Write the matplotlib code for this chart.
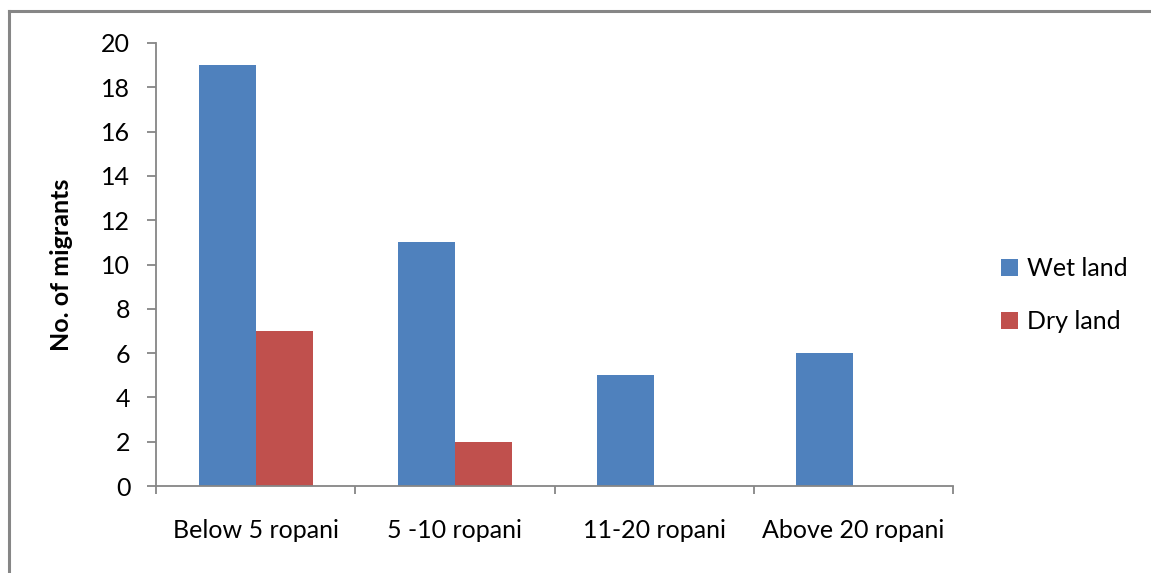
import matplotlib
matplotlib.use("Agg")
import matplotlib.pyplot as plt
from matplotlib.lines import Line2D
import numpy as np

plt.rcParams['font.family'] = ['Lato', 'DejaVu Sans']

categories = ["Below 5 ropani", "5 -10 ropani", "11-20 ropani", "Above 20 ropani"]
wet_land = [19, 11, 5, 6]
dry_land = [7, 2, 0, 0]
y_ticks = [0, 2, 4, 6, 8, 10, 12, 14, 16, 18, 20]

blue = "#4F81BD"
red = "#C0504D"
grey = "#868686"

fig = plt.figure(figsize=(11.51, 5.73), dpi=100)
ax = fig.add_axes([156 / 1151, 1 - 486 / 573, (953 - 156) / 1151, (486 - 43) / 573])

# outer chart border (only left/top visible in the crop)
bx, by = 9 / 1151, 1 - 11 / 573
fig.add_artist(Line2D([bx, 1.01], [by, by], transform=fig.transFigure,
                      color=grey, linewidth=2.2))
fig.add_artist(Line2D([bx, bx], [by, -0.01], transform=fig.transFigure,
                      color=grey, linewidth=2.2))

x = np.arange(len(categories))
w = 0.286
ax.bar(x - w / 2, wet_land, w, color=blue, label="Wet land")
ax.bar(x + w / 2, dry_land, w, color=red, label="Dry land")

ax.set_xlim(-0.5, len(categories) - 0.5)
ax.set_ylim(0, 20)
ax.set_yticks(y_ticks)
ax.set_xticks(x)
ax.set_xticklabels(categories)
ax.set_xticks(np.arange(len(categories) + 1) - 0.5, minor=True)

for s in ["top", "right"]:
    ax.spines[s].set_visible(False)
for s in ["left", "bottom"]:
    ax.spines[s].set_color(grey)
    ax.spines[s].set_linewidth(1.3)

fs = 18
ax.tick_params(axis="y", length=6.5, width=1.3, color=grey, pad=12, labelsize=fs)
ax.tick_params(axis="x", which="major", length=0, pad=24, labelsize=fs)
ax.tick_params(axis="x", which="minor", length=6, width=1.3, color=grey)

ax.set_ylabel("No. of migrants", fontsize=fs, fontweight="bold", labelpad=20)

ax.legend(loc="center left", bbox_to_anchor=(978 / 1151, 1 - 295 / 573),
          bbox_transform=fig.transFigure, frameon=False, fontsize=fs,
          handlelength=0.7, handleheight=0.7, handletextpad=0.35,
          labelspacing=1.2)

fig.savefig("out.png", dpi=100)
